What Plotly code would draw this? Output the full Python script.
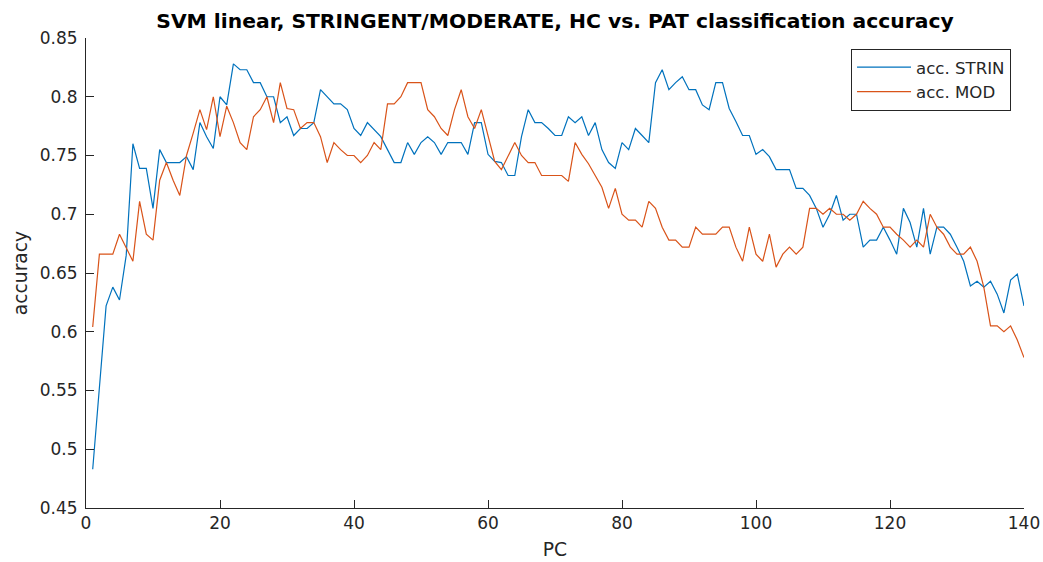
import plotly.graph_objects as go

# Number of principal components used (x axis)
pc = list(range(1, 141))

# Classification accuracy, STRINGENT subset
acc_strin = [
    0.483, 0.553, 0.622, 0.638, 0.627, 0.665, 0.760, 0.739, 0.739, 0.705,
    0.755, 0.744, 0.744, 0.744, 0.749, 0.738, 0.778, 0.766, 0.756, 0.800,
    0.793, 0.828, 0.823, 0.823, 0.812, 0.812, 0.800, 0.800, 0.778, 0.783,
    0.767, 0.773, 0.773, 0.778, 0.806, 0.800, 0.794, 0.794, 0.789, 0.773,
    0.767, 0.778, 0.772, 0.766, 0.755, 0.744, 0.744, 0.761, 0.751, 0.761,
    0.766, 0.761, 0.751, 0.761, 0.761, 0.761, 0.751, 0.778, 0.778, 0.751,
    0.745, 0.744, 0.733, 0.733, 0.766, 0.789, 0.778, 0.778, 0.773, 0.767,
    0.767, 0.783, 0.778, 0.783, 0.767, 0.778, 0.755, 0.744, 0.739, 0.761,
    0.755, 0.773, 0.767, 0.761, 0.812, 0.823, 0.806, 0.812, 0.817, 0.806,
    0.806, 0.793, 0.789, 0.812, 0.812, 0.790, 0.779, 0.767, 0.767, 0.751,
    0.755, 0.749, 0.738, 0.738, 0.738, 0.722, 0.722, 0.716, 0.705, 0.689,
    0.700, 0.716, 0.695, 0.700, 0.700, 0.672, 0.678, 0.678, 0.689, 0.678,
    0.666, 0.705, 0.693, 0.672, 0.705, 0.666, 0.689, 0.689, 0.683, 0.672,
    0.660, 0.639, 0.643, 0.638, 0.643, 0.632, 0.616, 0.644, 0.649, 0.622,
]

# Classification accuracy, MODERATE subset
acc_mod = [
    0.604, 0.666, 0.666, 0.666, 0.683, 0.672, 0.660, 0.711, 0.683, 0.678,
    0.729, 0.744, 0.729, 0.716, 0.750, 0.769, 0.789, 0.772, 0.800, 0.766,
    0.792, 0.778, 0.761, 0.755, 0.783, 0.789, 0.800, 0.778, 0.812, 0.790,
    0.789, 0.773, 0.778, 0.778, 0.766, 0.744, 0.761, 0.755, 0.750, 0.750,
    0.744, 0.750, 0.761, 0.755, 0.794, 0.794, 0.800, 0.812, 0.812, 0.812,
    0.789, 0.783, 0.773, 0.767, 0.789, 0.806, 0.783, 0.773, 0.789, 0.766,
    0.745, 0.738, 0.750, 0.761, 0.750, 0.744, 0.744, 0.733, 0.733, 0.733,
    0.733, 0.728, 0.761, 0.751, 0.743, 0.733, 0.723, 0.705, 0.722, 0.700,
    0.695, 0.695, 0.689, 0.711, 0.705, 0.689, 0.678, 0.678, 0.672, 0.672,
    0.689, 0.683, 0.683, 0.683, 0.689, 0.689, 0.672, 0.660, 0.689, 0.666,
    0.660, 0.683, 0.655, 0.666, 0.672, 0.666, 0.672, 0.705, 0.705, 0.700,
    0.705, 0.700, 0.700, 0.695, 0.700, 0.711, 0.705, 0.700, 0.689, 0.689,
    0.683, 0.678, 0.672, 0.678, 0.672, 0.700, 0.689, 0.683, 0.672, 0.666,
    0.666, 0.672, 0.660, 0.638, 0.605, 0.605, 0.600, 0.605, 0.593, 0.578,
]

x_ticks = [0, 20, 40, 60, 80, 100, 120, 140]
y_ticks = [0.45, 0.5, 0.55, 0.6, 0.65, 0.7, 0.75, 0.8, 0.85]
y_tick_labels = ["0.45", "0.5", "0.55", "0.6", "0.65", "0.7", "0.75", "0.8", "0.85"]

AXIS_COLOR = "#262626"
FONT = "DejaVu Sans"

fig = go.Figure()
fig.add_trace(go.Scatter(
    x=pc, y=acc_strin, mode="lines", name="acc. STRIN",
    line=dict(color="#0072BD", width=1.2),
))
fig.add_trace(go.Scatter(
    x=pc, y=acc_mod, mode="lines", name="acc. MOD",
    line=dict(color="#D95319", width=1.2),
))

fig.update_layout(
    width=1043, height=562,
    margin=dict(l=86, r=19, t=38, b=54, autoexpand=False),
    paper_bgcolor="white", plot_bgcolor="white",
    font=dict(family=FONT, size=17, color=AXIS_COLOR),
    title=dict(
        text="<b>SVM linear, STRINGENT/MODERATE, HC vs. PAT classification accuracy</b>",
        xref="paper", x=0.5, xanchor="center",
        yref="container", y=1 - 21 / 562, yanchor="middle",
        font=dict(family=FONT, size=20.3, color="#000000"),
    ),
    legend=dict(
        x=0.8156, y=0.977, xanchor="left", yanchor="top",
        bordercolor=AXIS_COLOR, borderwidth=1, bgcolor="white",
        font=dict(family=FONT, size=16.6, color=AXIS_COLOR),
        itemwidth=54, tracegroupgap=0,
    ),
    showlegend=True,
)

fig.update_xaxes(
    range=[0, 140], tickvals=x_ticks, ticks="inside", ticklen=8,
    tickcolor=AXIS_COLOR, tickwidth=1, automargin=False,
    showline=True, linecolor=AXIS_COLOR, linewidth=1,
    showgrid=False, zeroline=False,
    title=dict(text="PC", font=dict(family=FONT, size=18.7, color=AXIS_COLOR), standoff=10),
)
fig.update_yaxes(
    range=[0.45, 0.85], tickvals=y_ticks, ticktext=y_tick_labels,
    ticks="inside", ticklen=8, tickcolor=AXIS_COLOR, tickwidth=1, automargin=False,
    ticklabelstandoff=4,
    showline=True, linecolor=AXIS_COLOR, linewidth=1,
    showgrid=False, zeroline=False,
    title=dict(text="accuracy", font=dict(family=FONT, size=18.7, color=AXIS_COLOR), standoff=7),
)

fig.write_html("out.html")
